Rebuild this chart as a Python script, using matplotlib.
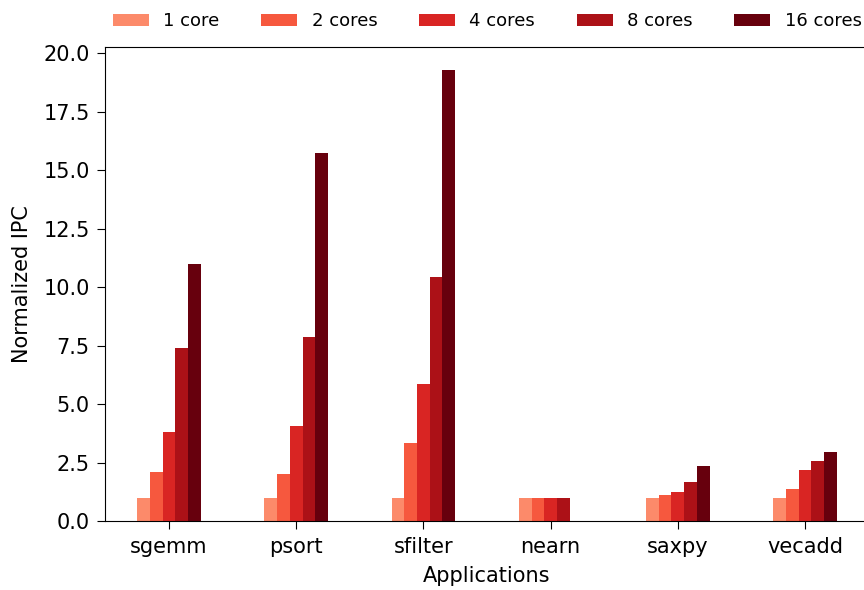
import numpy as np
import matplotlib
matplotlib.use("Agg")
import matplotlib.pyplot as plt

apps = ["sgemm", "psort", "sfilter", "nearn", "saxpy", "vecadd"]
series = ["1 core", "2 cores", "4 cores", "8 cores", "16 cores"]

ipc_1 = [1.0, 1.0, 1.0, 1.0, 1.0, 1.0]
ipc_2 = [2.08, 2.0, 3.32, 1.0, 1.13, 1.37]
ipc_4 = [3.79, 4.05, 5.85, 1.0, 1.26, 2.19]
ipc_8 = [7.39, 7.85, 10.42, 1.0, 1.66, 2.57]
ipc_16 = [11.0, 15.73, 19.3, np.nan, 2.37, 2.96]

values = [ipc_1, ipc_2, ipc_4, ipc_8, ipc_16]
colors = [plt.cm.Reds(v) for v in np.linspace(0.4, 1.0, len(series))]

fig = plt.figure(figsize=(8.64, 5.90), dpi=100)
ax = fig.add_axes([105.4 / 864, 1 - 521 / 590, 763.2 / 864, 474 / 590])

x = np.arange(len(apps))
n = len(series)
width = 0.5 / n
for i, (name, vals, c) in enumerate(zip(series, values, colors)):
    offs = -0.25 + width * i + width / 2
    ax.bar(x + offs, vals, width, color=c, label=name)

ax.set_xlim(-0.5, len(apps) - 0.5)
ax.set_xticks(x)
ax.set_xticklabels(apps)
ax.set_yticks(np.arange(0, 20.1, 2.5))
ax.tick_params(axis="both", labelsize=15, length=6, pad=5.3)
ax.set_xlabel("Applications", fontsize=15, labelpad=7)
ax.set_ylabel("Normalized IPC", fontsize=15, labelpad=8.5)

ax.legend(loc="lower left", bbox_to_anchor=(0.0, 1.02), ncol=5, frameon=False,
          fontsize=13, columnspacing=2.3, borderaxespad=0.0)

fig.savefig("out.png", dpi=100)
